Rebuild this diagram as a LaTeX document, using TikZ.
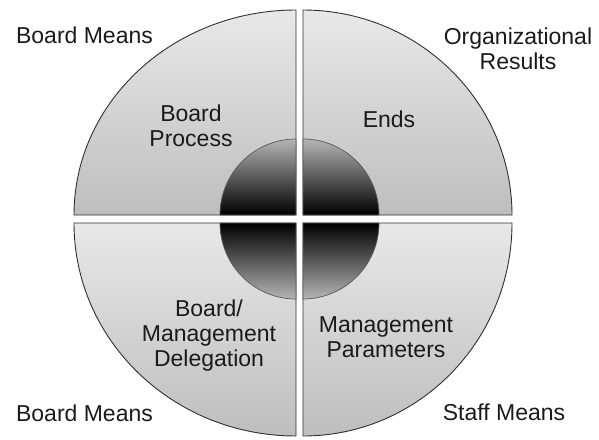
\documentclass[tikz,border=0pt]{standalone}
\usepackage{fontspec}
\setmainfont{Liberation Sans}
\definecolor{txt}{HTML}{1A1A1A}
\definecolor{outtop}{HTML}{E8E8E8}
\definecolor{outbot}{HTML}{BEBEBE}
\definecolor{intop}{HTML}{B4B4B4}
\definecolor{inmid}{HTML}{777777}
\definecolor{edge}{HTML}{303030}
\begin{document}
\begin{tikzpicture}[x=1pt,y=-1pt,
  quad/.style={draw=edge,line width=0.9pt,top color=outtop,bottom color=outbot},
  innertop/.style={draw=edge!80,line width=0.7pt,top color=intop,middle color=inmid,bottom color=black},
  innerbot/.style={draw=edge!80,line width=0.7pt,top color=black,middle color=inmid,bottom color=intop},
  lbl/.style={text=txt,font=\fontsize{23}{25}\selectfont,align=center,inner sep=0pt,anchor=base}]
\useasboundingbox (0,0) rectangle (599,439);
% outer quadrants
\path[quad] (296,215) -- (74,215) arc[start angle=180,end angle=270,x radius=222,y radius=205] -- cycle;
\path[quad] (303,215) -- (303,10) arc[start angle=270,end angle=360,x radius=209,y radius=205] -- cycle;
\path[quad] (296,223) -- (74,223) arc[start angle=180,end angle=90,x radius=222,y radius=213] -- cycle;
\path[quad] (303,223) -- (512,223) arc[start angle=0,end angle=90,x radius=209,y radius=213] -- cycle;
% inner quarters
\path[innertop] (296,215) -- (220,215) arc[start angle=180,end angle=270,radius=76] -- cycle;
\path[innertop] (303,215) -- (303,139) arc[start angle=270,end angle=360,radius=76] -- cycle;
\path[innerbot] (296,223) -- (220,223) arc[start angle=180,end angle=90,radius=76] -- cycle;
\path[innerbot] (303,223) -- (379,223) arc[start angle=0,end angle=90,radius=76] -- cycle;
% labels (anchor = baseline of last line)
\node[lbl] (bm1) at (84.5,43.5) {Board Means};
\node[lbl] (org) at (518,69) {Organizational\\Results};
\node[lbl] (bp) at (191,146.7) {Board\\Process};
\node[lbl] (ends) at (389,127.7) {Ends};
\node[lbl] (bmd) at (209,366.7) {Board/\\Management\\Delegation};
\node[lbl] (mp) at (386,357) {Management\\Parameters};
\node[lbl] (bm2) at (84.5,421.7) {Board Means};
\node[lbl] (sm) at (504,420.7) {Staff Means};
\end{tikzpicture}
\end{document}
